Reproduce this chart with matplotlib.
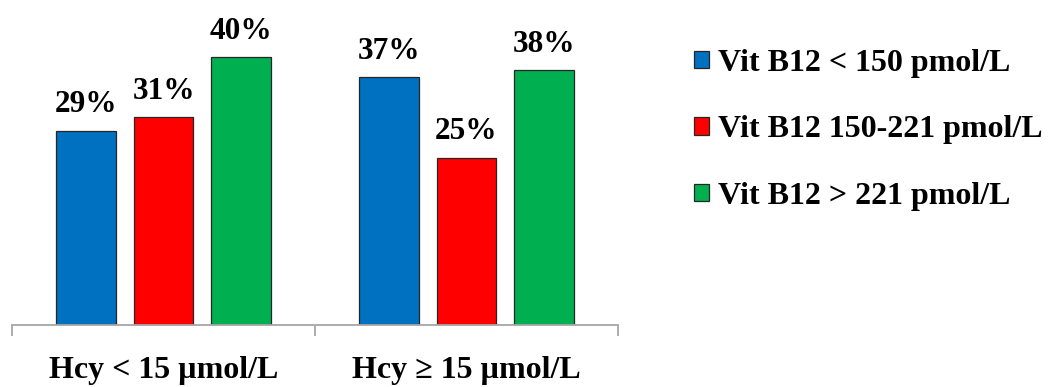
import matplotlib
matplotlib.use("Agg")
import matplotlib.pyplot as plt
import numpy as np
from matplotlib.patches import Patch

categories = ["Hcy < 15 µmol/L", "Hcy ≥ 15 µmol/L"]
series_names = ["Vit B12 < 150 pmol/L", "Vit B12 150-221 pmol/L", "Vit B12 > 221 pmol/L"]
values = [
    [29, 37],
    [31, 25],
    [40, 38],
]
colors = ["#0070C0", "#FF0000", "#00B050"]

plt.rcParams['font.family'] = ['Liberation Serif', 'DejaVu Serif']
plt.rcParams['font.weight'] = 'bold'

fig = plt.figure(figsize=(10.48, 3.87), dpi=100)
ax = fig.add_axes([12/1048, 62/387, 606/1048, (325-23.5)/387])

x = np.arange(len(categories))
offsets = [-0.256, 0, 0.256]
width = 0.198
for vals, off, c in zip(values, offsets, colors):
    bars = ax.bar(x + off, vals, width, color=c, edgecolor="#262626", linewidth=0.9, zorder=2)
    for b, v in zip(bars, vals):
        ax.text(b.get_x() + b.get_width()/2, v + 2.75, f"{v}%", ha="center", va="baseline",
                fontsize=22.5, fontweight="bold")

ax.set_xlim(-0.5, 1.5)
ax.set_ylim(0, 45)
ax.set_yticks([])
for s in ["top", "right", "left"]:
    ax.spines[s].set_visible(False)
ax.spines["bottom"].set_color("#A6A6A6")
ax.spines["bottom"].set_linewidth(1.3)
ax.set_xticks(x)
ax.set_xticklabels(categories, fontsize=23, fontweight="bold")
ax.tick_params(axis="x", which="major", length=0, pad=22.5)
ax.set_xticks([-0.5, 0.5, 1.5], minor=True)
ax.tick_params(axis="x", which="minor", length=8, width=1.3, color="#A6A6A6", direction="out")
ax.patch.set_visible(False)

handles = [Patch(facecolor=c, edgecolor="#262626", linewidth=0.9) for c in colors]
leg = fig.legend(handles, series_names, loc="upper left", bbox_to_anchor=(694/1048, 1 - 49/387),
                 frameon=False, fontsize=23, handlelength=0.47, handleheight=0.47,
                 handletextpad=0.28, labelspacing=1.17, borderaxespad=0, borderpad=0)

fig.savefig("out.png", dpi=100)
